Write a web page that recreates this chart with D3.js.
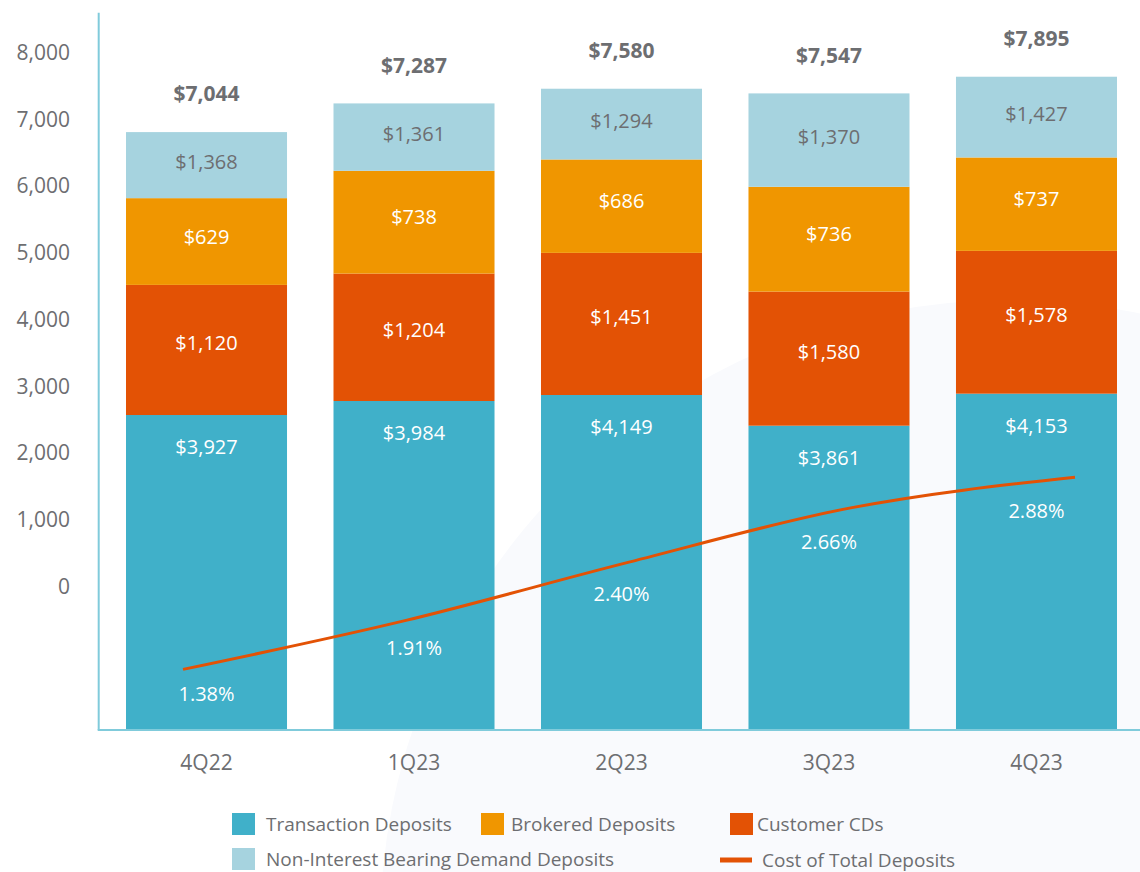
<!DOCTYPE html>
<html>
<head>
<meta charset="utf-8">
<script src="https://cdn.jsdelivr.net/npm/d3@7"></script>
<style>
  html, body { margin: 0; padding: 0; background: #ffffff; }
  svg { display: block; font-family: "Open Sans", "Noto Sans", sans-serif; }
</style>
</head>
<body>
<svg id="chart" width="1140" height="872"></svg>
<script>
// ---------- data ----------
const categories = ["4Q22", "1Q23", "2Q23", "3Q23", "4Q23"];
const transactionDeposits = [3927, 3984, 4149, 3861, 4153];
const customerCDs = [1120, 1204, 1451, 1580, 1578];
const brokeredDeposits = [629, 738, 686, 736, 737];
const nonInterestBearing = [1368, 1361, 1294, 1370, 1427];
const totalDeposits = [7044, 7287, 7580, 7547, 7895];
const costOfDeposits = [1.38, 1.91, 2.40, 2.66, 2.88];
const yTickValues = [0, 1000, 2000, 3000, 4000, 5000, 6000, 7000, 8000];

// bar extents as they appear against the left axis (the graphic is not to scale)
const barBase = -2150;
const transactionTop = [2570, 2780, 2870, 2410, 2890];
const customerCDTop = [4520, 4690, 5000, 4420, 5030];
const brokeredTop = [5820, 6230, 6400, 5990, 6430];
const nonInterestTop = [6810, 7240, 7460, 7390, 7640];
// cost-of-deposits line level as it appears against the left axis
const costLineLevel = [-1242, -508, 365, 1182, 1638];

// ---------- styles ----------
const C = {
  transaction: "#40B0C9",
  brokered: "#F09600",
  cds: "#E35205",
  nib: "#A6D3DF",
  line: "#E35205",
  axis: "#80CBDB",
  text: "#6D6E71"
};

const svg = d3.select("#chart");

// faint background shape
svg.append("circle").attr("cx", 1010).attr("cy", 930).attr("r", 630).attr("fill", "#f9fafd");

const x = d3.scaleBand().domain(categories).range([98.7, 1144.3])
  .paddingInner(0.224).paddingOuter(0.1316);
const y = d3.scaleLinear().domain([0, 8000]).range([586.5, 52.7]);
const bw = x.bandwidth();
const cx = c => x(c) + bw / 2;

// ---------- stacked bars ----------
const series = [
  { key: "transaction", color: C.transaction, vals: transactionDeposits, lo: categories.map(() => barBase), hi: transactionTop, labelColor: "#ffffff" },
  { key: "cds", color: C.cds, vals: customerCDs, lo: transactionTop, hi: customerCDTop, labelColor: "#ffffff" },
  { key: "brokered", color: C.brokered, vals: brokeredDeposits, lo: customerCDTop, hi: brokeredTop, labelColor: "#ffffff" },
  { key: "nib", color: C.nib, vals: nonInterestBearing, lo: brokeredTop, hi: nonInterestTop, labelColor: C.text }
];

const gBars = svg.append("g");
series.forEach(s => {
  gBars.selectAll(null).data(categories).enter().append("rect")
    .attr("x", d => x(d))
    .attr("width", bw)
    .attr("y", (d, i) => y(s.hi[i]))
    .attr("height", (d, i) => y(s.lo[i]) - y(s.hi[i]))
    .attr("fill", s.color);
});

// segment labels
const fmt = d3.format(",");
series.forEach(s => {
  gBars.selectAll(null).data(categories).enter().append("text")
    .attr("x", d => cx(d))
    .attr("y", (d, i) => {
      if (s.key === "transaction") return y(s.hi[i]) + 32;
      const mid = (y(s.hi[i]) + y(s.lo[i])) / 2;
      const shift = s.key === "nib" ? -3 : s.key === "brokered" ? -5 : -7;
      return mid + shift;
    })
    .attr("dy", "0.35em")
    .attr("text-anchor", "middle")
    .attr("font-size", 20)
    .attr("fill", s.labelColor)
    .text((d, i) => "$" + fmt(s.vals[i]));
});

// totals
svg.append("g").selectAll("text").data(categories).enter().append("text")
  .attr("x", d => cx(d))
  .attr("y", (d, i) => y(nonInterestTop[i]) - 38)
  .attr("dy", "0.35em")
  .attr("text-anchor", "middle")
  .attr("font-size", 21)
  .attr("font-weight", "bold")
  .attr("fill", C.text)
  .text((d, i) => "$" + fmt(totalDeposits[i]));

// ---------- axes ----------
svg.append("line")
  .attr("x1", 98.7).attr("x2", 98.7).attr("y1", 12.7).attr("y2", y(barBase))
  .attr("stroke", C.axis).attr("stroke-width", 2);
svg.append("line")
  .attr("x1", 97.7).attr("x2", 1140).attr("y1", y(barBase)).attr("y2", y(barBase))
  .attr("stroke", C.axis).attr("stroke-width", 2);

const yAxis = svg.append("g").attr("transform", "translate(70,0)")
  .call(d3.axisLeft(y).tickValues(yTickValues).tickSize(0).tickPadding(0).tickFormat(d3.format(",")));
yAxis.select(".domain").remove();
yAxis.selectAll("text").attr("font-size", 21).attr("fill", C.text)
  .attr("font-family", "'Open Sans', 'Noto Sans', sans-serif");

const xAxis = svg.append("g").attr("transform", `translate(0,${y(barBase)})`)
  .call(d3.axisBottom(x).tickSize(0).tickPadding(0));
xAxis.select(".domain").remove();
xAxis.selectAll("text").attr("font-size", 21).attr("fill", C.text)
  .attr("dy", null).attr("y", 32).attr("dominant-baseline", "central")
  .attr("font-family", "'Open Sans', 'Noto Sans', sans-serif");

// ---------- cost of deposits line ----------
const xLine = d3.scalePoint().domain(categories)
  .range([cx(categories[0]) - 23.5, cx(categories[categories.length - 1]) + 38.5]);
const lineGen = d3.line()
  .x((d, i) => xLine(categories[i]))
  .y(d => y(d))
  .curve(d3.curveMonotoneX);
const path = svg.append("path")
  .datum(costLineLevel)
  .attr("d", lineGen)
  .attr("fill", "none")
  .attr("stroke", C.line)
  .attr("stroke-width", 3);

// y of path at a given x (search along path)
const pnode = path.node();
const total = pnode.getTotalLength();
function yAtX(px) {
  let lo = 0, hi = total;
  for (let k = 0; k < 40; k++) {
    const mid = (lo + hi) / 2;
    if (pnode.getPointAtLength(mid).x < px) lo = mid; else hi = mid;
  }
  return pnode.getPointAtLength((lo + hi) / 2).y;
}

svg.append("g").selectAll("text").data(categories).enter().append("text")
  .attr("x", d => cx(d))
  .attr("y", d => yAtX(cx(d)) + 30)
  .attr("dy", "0.35em")
  .attr("text-anchor", "middle")
  .attr("font-size", 20)
  .attr("fill", "#ffffff")
  .text((d, i) => costOfDeposits[i].toFixed(2) + "%");

// ---------- legend ----------
const legendItems = [
  { label: "Transaction Deposits", color: C.transaction, type: "rect", x: 232, y: 824, tx: 266 },
  { label: "Brokered Deposits", color: C.brokered, type: "rect", x: 481, y: 824, tx: 511 },
  { label: "Customer CDs", color: C.cds, type: "rect", x: 730, y: 824, tx: 757 },
  { label: "Non-Interest Bearing Demand Deposits", color: C.nib, type: "rect", x: 232, y: 859, tx: 266 },
  { label: "Cost of Total Deposits", color: C.line, type: "line", x: 720, y: 860, tx: 762 }
];
const gl = svg.append("g");
legendItems.forEach(it => {
  if (it.type === "rect") {
    gl.append("rect").attr("x", it.x).attr("y", it.y - 11).attr("width", 23).attr("height", 22).attr("fill", it.color);
  } else {
    gl.append("rect").attr("x", it.x).attr("y", it.y - 2.5).attr("width", 32).attr("height", 5).attr("fill", it.color);
  }
  gl.append("text").attr("x", it.tx).attr("y", it.y).attr("dy", "0.35em")
    .attr("font-size", 19).attr("fill", C.text).text(it.label);
});
</script>
</body>
</html>
